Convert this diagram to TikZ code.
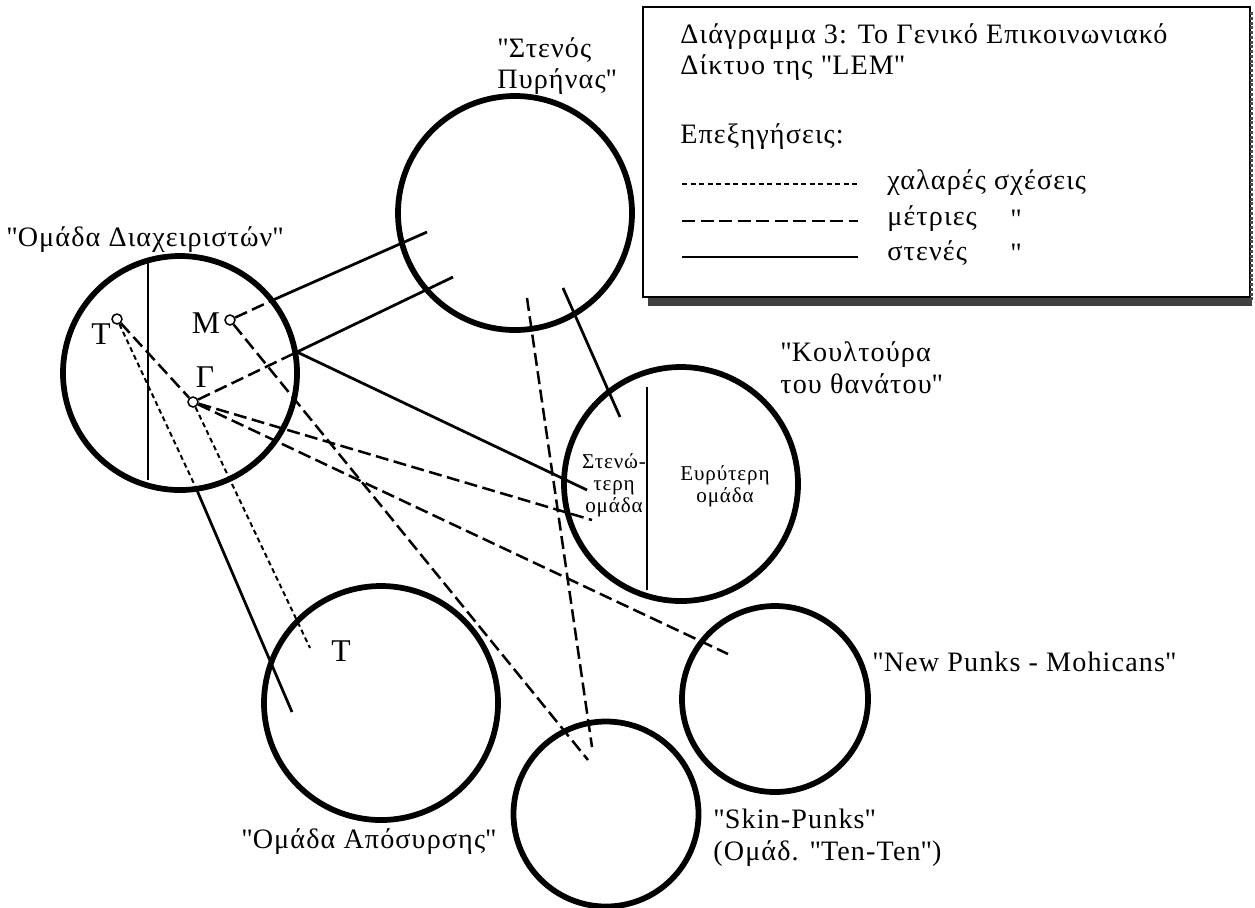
\documentclass[tikz,border=0pt]{standalone}
\usepackage{fontspec}
\setmainfont{Liberation Serif}[LetterSpace=4]
\usepackage{xcolor}
\usepackage{tikz}
\usetikzlibrary{arrows.meta, positioning, calc}
\newcommand{\lblfont}{\fontsize{16}{18}\selectfont}
\newcommand{\innerfont}{\fontsize{12}{12.5}\selectfont}
\newcommand{\qm}{\textquotedbl}

\begin{document}
\begin{tikzpicture}[
	x=0.2mm, y=-0.2mm,
	grp/.style={circle, draw, line width=1.15mm, inner sep=0pt, minimum size=#1},
	pers/.style={circle, draw, line width=0.3mm, inner sep=0pt, minimum size=2mm},
	lbl/.style={font=\lblfont, inner sep=0pt, align=left},
	inlbl/.style={font=\innerfont, inner sep=0pt, align=center},
	stenes/.style={line width=0.55mm},
	metries/.style={line width=0.5mm, dash pattern=on 2.6mm off 1.1mm},
	chalares/.style={line width=0.4mm, dash pattern=on 1mm off 0.7mm}
	]
	\useasboundingbox (0,0) rectangle (1255,907);

	\node[grp=46.8mm] (diax) at (180,373) {};
	\node[grp=46.8mm] (pyr) at (515,213) {};
	\node[grp=46.8mm] (koul) at (681,484) {};
	\node[grp=46.8mm] (apos) at (381,703) {};
	\node[grp=37mm] (skin) at (606,814) {};
	\node[grp=37.2mm] (newp) at (775,699) {};

	\draw[line width=0.3mm] (148,262) -- (148,480);
	\draw[line width=0.3mm] (647,387) -- (647,590);

	\node[pers] (T) at (117,319) {};
	\node[pers] (M) at (230,320) {};
	\node[pers] (G) at (193,402) {};
	\node[lbl, font=\fontsize{18}{18}\selectfont] (Tlbl) at (101,334) {Τ};
	\node[lbl, font=\fontsize{18}{18}\selectfont] (Mlbl) at (206,323) {Μ};
	\node[lbl, font=\fontsize{18}{18}\selectfont] (Glbl) at (205,377) {Γ};
	\node[lbl, font=\fontsize{18}{18}\selectfont] (Taposlbl) at (341,651) {Τ};

	\coordinate (m1) at (273,300);
	\coordinate (g1) at (297,352);
	\coordinate (t1) at (196,488);
	\coordinate (pyrA) at (427,232);
	\coordinate (pyrB) at (453,277);
	\coordinate (pyrC) at (527,298);
	\coordinate (pyrD) at (563,288);
	\coordinate (koulA) at (620,417);
	\coordinate (koulB) at (587,490);
	\coordinate (koulC) at (592,520);
	\coordinate (aposA) at (292,712);
	\coordinate (aposB) at (310,648);
	\coordinate (skinA) at (588,760);
	\coordinate (skinB) at (592,747);
	\coordinate (newpA) at (728,654);

	\draw[metries] (M) -- (m1);
	\draw[stenes] (m1) -- (pyrA);
	\draw[metries] (G) -- (g1);
	\draw[stenes] (g1) -- (pyrB);
	\draw[stenes] (g1) -- (koulB);
	\draw[metries] (T) -- (G);
	\draw[chalares] (T) -- (t1);
	\draw[stenes] (t1) -- (aposA);
	\draw[chalares] (G) -- (aposB);
	\draw[metries] (M) -- (skinA);
	\draw[metries] (G) -- (koulC);
	\draw[metries] (G) -- (newpA);
	\draw[metries] (pyrC) -- (skinB);
	\draw[stenes] (pyrD) -- (koulA);

	\node[lbl, anchor=west] (diaxlbl) at (6,240) {\qm Ομάδα Διαχειριστών\qm};
	\node[lbl, anchor=west] (pyrlbl) at (497,66) {\qm Στενός\\Πυρήνας\qm};
	\node[lbl, anchor=west] (koullbl) at (780,368) {\qm Κουλτούρα\\του θανάτου\qm};
	\node[lbl] (aposlbl) at (369,842) {\qm Ομάδα Απόσυρσης\qm};
	\node[lbl, anchor=west] (skinlbl) at (713,838) {\qm Skin-Punks\qm\\(Ομάδ. \qm Ten-Ten\qm)};
	\node[lbl, anchor=west] (newplbl) at (872,662) {\qm New Punks - Mohicans\qm};
	\node[inlbl] (stenlbl) at (614,485) {Στενώ-\\τερη\\ομάδα};
	\node[inlbl] (evrlbl) at (725,486) {Ευρύτερη\\ομάδα};

	\draw[line width=0.3mm] (643,7) rectangle (1250,297);
	\draw[line width=1.5mm, black!75] (648,302) -- (1252,302);
	\draw[line width=0.6mm, black!70, densely dotted] (1251,12) -- (1251,300);
	\node[lbl, anchor=west] (title) at (680,52) {Διάγραμμα 3: Το Γενικό Επικοινωνιακό\\Δίκτυο της \qm LEM\qm};
	\node[lbl, anchor=west] (epex) at (680,137) {Επεξηγήσεις:};
	\draw[chalares] (682,184) -- (858,184);
	\draw[metries] (682,221) -- (858,221);
	\draw[stenes] (682,257) -- (858,257);
	\node[lbl, anchor=west] (chal) at (887,183) {χαλαρές σχέσεις};
	\node[lbl, anchor=west] (metr) at (887,219) {μέτριες};
	\node[lbl, anchor=west] (sten) at (887,253) {στενές};
	\node[lbl] (ditto1) at (1016,219) {\qm};
	\node[lbl] (ditto2) at (1016,253) {\qm};
\end{tikzpicture}
\end{document}
